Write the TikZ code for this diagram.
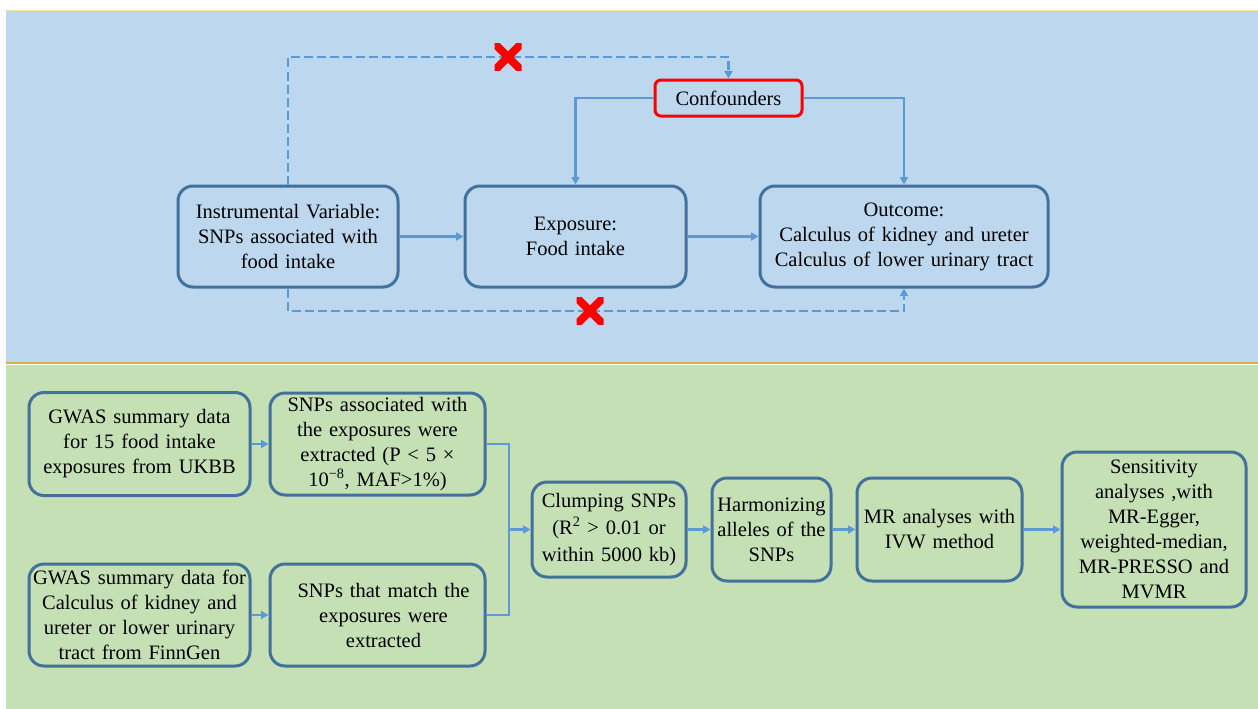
\documentclass[tikz,border=0pt]{standalone}
\usepackage{fontspec}
\setmainfont{Liberation Serif}
\usetikzlibrary{arrows.meta}
\definecolor{bgblue}{HTML}{BDD7EE}
\definecolor{bggreen}{HTML}{C5E0B4}
\definecolor{boxline}{HTML}{41719C}
\definecolor{arrline}{HTML}{5B9BD5}
\definecolor{goldline}{HTML}{D4B24C}
\definecolor{paleyellow}{HTML}{EEE0A0}
\tikzset{
  box/.style={draw=boxline, line width=3pt, rounded corners=15pt, align=center,
    inner sep=2pt, font=\fontsize{20.5}{25}\selectfont},
  redbox/.style={draw=red, line width=3pt, rounded corners=6pt, align=center,
    inner sep=2pt, font=\fontsize{20.5}{25}\selectfont},
  conn/.style={draw=arrline, line width=2.7pt},
  arr/.style={conn, -{Triangle[length=7.5pt,width=8pt]}},
  darr/.style={conn, dash pattern=on 9pt off 4pt, -{Triangle[length=7.5pt,width=8pt]}},
  xmark/.style={minimum size=27pt, inner sep=0pt,
    path picture={\draw[red, line width=8pt]
      (path picture bounding box.south west) -- (path picture bounding box.north east)
      (path picture bounding box.north west) -- (path picture bounding box.south east);}}
}
\begin{document}
\begin{tikzpicture}[x=1pt,y=-1pt]
\useasboundingbox (0,0) rectangle (1258,709);
\fill[white] (0,0) rectangle (1258,709);
% panels
\fill[bgblue] (6,10) rectangle (1258,363);
\draw[paleyellow, line width=0.8pt] (6,10.4) -- (1258,10.4);
\fill[bggreen] (6,365) rectangle (1258,709);
\draw[goldline, line width=1.8pt] (6,363) -- (1258,363);

% top nodes
\node[box, text width=214pt, minimum width=220pt, minimum height=101pt] (iv) at (288,236.5)
  {Instrumental Variable:\\SNPs associated with\\food intake};
\node[box, text width=215pt, minimum width=221pt, minimum height=101pt] (exp) at (575.5,236.5)
  {Exposure:\\Food intake};
\node[box, text width=282pt, minimum width=288pt, minimum height=101pt] (out) at (904,236.5)
  {Outcome:\\Calculus of kidney and ureter\\Calculus of lower urinary tract};
\node[redbox, text width=141pt, minimum width=147pt, minimum height=36pt] (conf) at (728.5,98)
  {Confounders};

\coordinate (tl) at (288,57);
\coordinate (tr) at (728.5,57);
\coordinate (bl) at (288,311);
\coordinate (br) at (904,311);

\draw[arr] (iv.east) -- (exp.west);
\draw[arr] (exp.east) -- (out.west);
\draw[arr] (conf.west) -| (exp.north);
\draw[arr] (conf.east) -| (out.north);
\draw[darr] (iv.north) -- (tl) -- (tr) -- (conf.north);
\draw[darr] (iv.south) -- (bl) -- (br) -- (out.south);

\node[xmark] (x1) at (508,57) {};
\node[xmark] (x2) at (590,311) {};

% bottom nodes
\node[box, text width=217pt, minimum width=221pt, minimum height=103pt] (g1) at (139.5,444)
  {GWAS summary data\\for 15 food intake\\exposures from UKBB};
\node[box, text width=211pt, minimum width=215pt, minimum height=102pt] (s1) at (377.5,444)
  {SNPs associated with\\the exposures were\\extracted (P < 5 ×\\10\textsuperscript{−8}, MAF>1\%)};
\node[box, text width=217pt, minimum width=221pt, minimum height=102pt] (g2) at (139.5,615)
  {GWAS summary data for\\Calculus of kidney and\\ureter or lower urinary\\tract from FinnGen};
\node[box, text width=211pt, minimum width=215pt, minimum height=102pt] (s2) at (377.5,615)
  {\hspace*{12pt}SNPs that match the\\\hspace*{12pt}exposures were\\\hspace*{12pt}extracted};
\node[box, text width=150pt, minimum width=154pt, minimum height=95pt, font=\fontsize{20.5}{27}\selectfont] (cl) at (609,529.5)
  {Clumping SNPs\\(R\textsuperscript{2} > 0.01 or\\within 5000 kb)};
\node[box, text width=115pt, minimum width=119pt, minimum height=103pt] (hm) at (771.5,529.5)
  {Harmonizing\\alleles of the\\SNPs};
\node[box, text width=161pt, minimum width=165pt, minimum height=103pt] (mr) at (939.5,529.5)
  {MR analyses with\\IVW method};
\node[box, text width=180pt, minimum width=184pt, minimum height=155pt] (se) at (1154,529.5)
  {Sensitivity\\analyses ,with\\MR-Egger,\\weighted-median,\\MR-PRESSO and\\MVMR};

\coordinate (jn) at (509,529.5);
\draw[arr] (g1.east) -- (s1.west);
\draw[arr] (g2.east) -- (s2.west);
\draw[conn] (s1.east) -| (jn);
\draw[conn] (s2.east) -| (jn);
\draw[arr] (jn) -- (cl.west);
\draw[arr] (cl.east) -- (hm.west);
\draw[arr] (hm.east) -- (mr.west);
\draw[arr] (mr.east) -- (se.west);
\end{tikzpicture}
\end{document}
